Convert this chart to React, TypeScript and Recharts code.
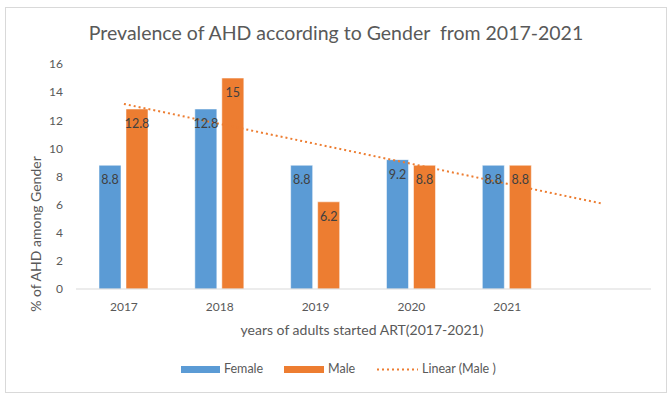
import React from 'react';
import { ComposedChart, Bar, Line, XAxis, YAxis, LabelList } from 'recharts';

const years = ['2017', '2018', '2019', '2020', '2021'];
const female = [8.8, 12.8, 8.8, 9.2, 8.8];
const male = [12.8, 15, 6.2, 8.8, 8.8];
const yTicks = [0, 2, 4, 6, 8, 10, 12, 14, 16];

// Excel-style linear trendline for Male, forecast forward one period
const n = male.length;
const xMean = (n + 1) / 2;
const yMean = male.reduce((a, b) => a + b, 0) / n;
const slope =
  male.reduce((s, y, i) => s + (i + 1 - xMean) * (y - yMean), 0) /
  male.reduce((s, _, i) => s + (i + 1 - xMean) ** 2, 0);
const trendAt = (x: number) => yMean + slope * (x - xMean);

const data = [...years, ''].map((year, i) => ({
  year,
  Female: female[i] ?? null,
  Male: male[i] ?? null,
  trend: trendAt(i + 1),
}));

const FONT = 'Lato, "Open Sans", sans-serif';
const TXT = '#595959';
const BLUE = '#5B9BD5';
const ORANGE = '#ED7D31';

function LegendRow() {
  const item = { position: 'absolute' as const, top: 361, fontSize: 12.5, color: TXT, lineHeight: '16px' };
  return (
    <>
      <div style={{ position: 'absolute', left: 181, top: 366, width: 39, height: 7, background: BLUE }} />
      <div style={{ ...item, left: 224 }}>Female</div>
      <div style={{ position: 'absolute', left: 284, top: 366, width: 40, height: 7, background: ORANGE }} />
      <div style={{ ...item, left: 328 }}>Male</div>
      <svg style={{ position: 'absolute', left: 377, top: 366 }} width={41} height={7}>
        <line x1={0} y1={3.5} x2={41} y2={3.5} stroke={ORANGE} strokeWidth={2} strokeDasharray="2 3" />
      </svg>
      <div style={{ ...item, left: 422 }}>Linear (Male )</div>
    </>
  );
}

export default function App() {
  return (
    <div style={{ position: 'absolute', left: 0, top: 0, width: 672, height: 398, background: '#fff', fontFamily: FONT }}>
      <div style={{ position: 'absolute', left: 5, top: 7, width: 660, height: 384, border: '1px solid #d9d9d9' }} />
      <div style={{ position: 'absolute', left: 0, width: 672, top: 21, textAlign: 'center', fontSize: 19.5, color: TXT, lineHeight: '24px' }}>
        Prevalence of AHD according to Gender&nbsp; from 2017-2021
      </div>
      <div style={{ position: 'absolute', left: 35, top: 234, transform: 'translate(-50%, -50%) rotate(-90deg)', whiteSpace: 'nowrap', fontSize: 14, color: TXT }}>
        % of AHD among Gender
      </div>
      <div style={{ position: 'absolute', left: 362, top: 329, transform: 'translate(-50%, -50%)', whiteSpace: 'nowrap', fontSize: 14, color: TXT }}>
        years of adults started ART(2017-2021)
      </div>
      <div style={{ position: 'absolute', left: 0, top: 0 }}>
        <ComposedChart width={672} height={398} data={data} margin={{ top: 64, right: 21, bottom: 79, left: 0 }} barSize={22} barGap={5}>
          <XAxis dataKey="year" height={30} axisLine={{ stroke: '#d9d9d9' }} tickLine={false} tickSize={0} tickMargin={13}
            tick={{ fill: TXT, fontSize: 12, fontFamily: FONT }} interval={0} />
          <YAxis width={76} domain={[0, 16]} ticks={yTicks} axisLine={false} tickLine={false} tickSize={0} tickMargin={13}
            tick={{ fill: TXT, fontSize: 12, fontFamily: FONT }} />
          <Bar dataKey="Female" fill={BLUE} stroke="#ffffff" strokeOpacity={0.5} isAnimationActive={false}>
            <LabelList dataKey="Female" position="insideTop" offset={10} fill="#404040" fontSize={12.5} fontFamily={FONT} />
          </Bar>
          <Bar dataKey="Male" fill={ORANGE} stroke="#ffffff" strokeOpacity={0.5} isAnimationActive={false}>
            <LabelList dataKey="Male" position="insideTop" offset={10} fill="#404040" fontSize={12.5} fontFamily={FONT} />
          </Bar>
          <Line dataKey="trend" stroke={ORANGE} strokeWidth={2} strokeDasharray="2 3" dot={false} activeDot={false} isAnimationActive={false} />
        </ComposedChart>
      </div>
      <LegendRow />
    </div>
  );
}
